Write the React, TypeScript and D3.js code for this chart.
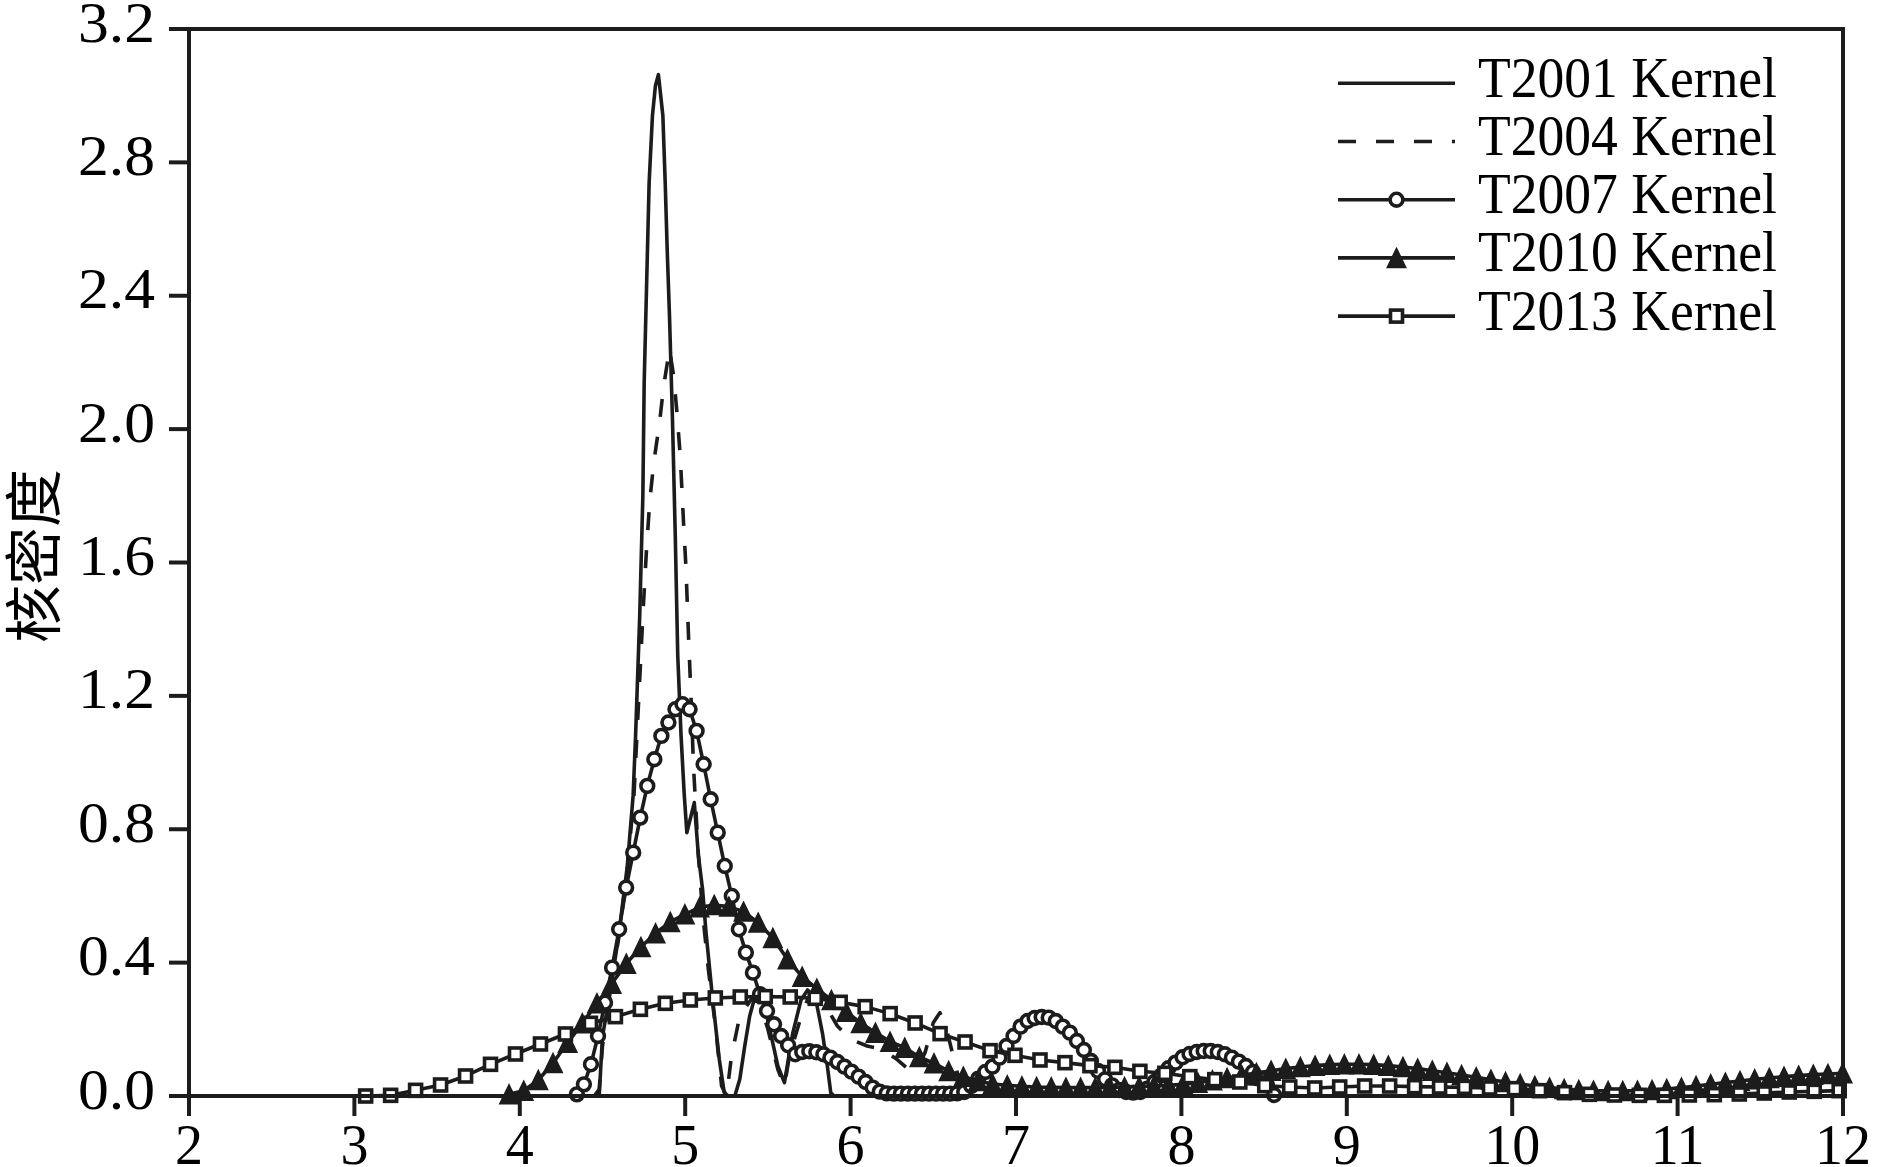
import React from "react";
import * as d3 from "d3";

const W = 1879;
const H = 1167;

// Axis ticks
const xTicks = [2, 3, 4, 5, 6, 7, 8, 9, 10, 11, 12];
const yTicks = [0, 0.4, 0.8, 1.2, 1.6, 2.0, 2.4, 2.8, 3.2];

// T2001 Kernel (solid line) - [x, density]
const t2001: [number, number][] = [
  [4.45, 0], [4.48, 0.0], [4.49, 0.09], [4.5, 0.18], [4.54, 0.29], [4.6, 0.49], [4.65, 0.69],
  [4.685, 0.9], [4.7, 1.08], [4.725, 1.44], [4.744, 1.8], [4.752, 2.14], [4.762, 2.34],
  [4.772, 2.54], [4.782, 2.74], [4.802, 2.94], [4.82, 3.03], [4.838, 3.063], [4.852, 3.0],
  [4.865, 2.94], [4.879, 2.74], [4.891, 2.54], [4.905, 2.34], [4.923, 2.03], [4.94, 1.68],
  [4.955, 1.32], [4.975, 1.08], [4.994, 0.905], [5.01, 0.79], [5.055, 0.88], [5.08, 0.72],
  [5.105, 0.62], [5.126, 0.49], [5.166, 0.29], [5.206, 0.11], [5.236, 0.01], [5.26, 0],
  [5.3, 0], [5.33, 0.05], [5.36, 0.15], [5.39, 0.24], [5.42, 0.295], [5.45, 0.31],
  [5.48, 0.27], [5.52, 0.18], [5.56, 0.09], [5.6, 0.04], [5.65, 0.188], [5.7, 0.288],
  [5.74, 0.318], [5.79, 0.288], [5.83, 0.188], [5.86, 0.088], [5.88, 0.01], [5.9, 0],
];

// T2004 Kernel (dashed line) - [x, density]
const t2004: [number, number][] = [
  [4.45, 0], [4.48, 0.02], [4.5, 0.15], [4.54, 0.3], [4.6, 0.48], [4.65, 0.68], [4.69, 0.9],
  [4.71, 1.1], [4.73, 1.3], [4.745, 1.45], [4.765, 1.63], [4.785, 1.78], [4.81, 1.9],
  [4.845, 2.02], [4.87, 2.13], [4.905, 2.24], [4.93, 2.16], [4.95, 2.05], [4.97, 1.92],
  [4.99, 1.72], [5.005, 1.58], [5.02, 1.38], [5.035, 1.2], [5.05, 0.99], [5.08, 0.72],
  [5.105, 0.55], [5.14, 0.38], [5.185, 0.2], [5.22, 0.03], [5.25, 0.0], [5.28, 0.12],
  [5.33, 0.24], [5.4, 0.29], [5.45, 0.28], [5.5, 0.2], [5.56, 0.08], [5.6, 0.03],
  [5.63, 0.12], [5.69, 0.22], [5.74, 0.29], [5.79, 0.3], [5.85, 0.27], [5.92, 0.21],
  [6.0, 0.17], [6.1, 0.15], [6.19, 0.14], [6.28, 0.11], [6.35, 0.08], [6.4, 0.08],
  [6.45, 0.13], [6.5, 0.22], [6.54, 0.25], [6.58, 0.2], [6.62, 0.12], [6.66, 0.04], [6.7, 0],
];

// T2007 Kernel (circles) - evaluation grid and densities
const t2007Start = 4.345;
const t2007Step = 0.04258;
const t2007Values = [
  0.005, 0.035, 0.095, 0.18, 0.28, 0.385, 0.5, 0.625, 0.73, 0.835,
  0.93, 1.01, 1.08, 1.12, 1.16, 1.175, 1.16, 1.095, 0.995, 0.89,
  0.79, 0.69, 0.6, 0.5, 0.43, 0.37, 0.305, 0.255, 0.215, 0.18,
  0.152, 0.125, 0.132, 0.134, 0.131, 0.125, 0.115, 0.102, 0.088, 0.073,
  0.058, 0.042, 0.025, 0.013, 0.008, 0.007, 0.007, 0.007, 0.007, 0.007,
  0.007, 0.007, 0.007, 0.007, 0.008, 0.012, 0.03, 0.052, 0.072, 0.088,
  0.115, 0.15, 0.18, 0.208, 0.225, 0.234, 0.237, 0.235, 0.225, 0.208,
  0.19, 0.165, 0.138, 0.105, 0.075, 0.05, 0.032, 0.018, 0.012, 0.01,
  0.012, 0.022, 0.042, 0.062, 0.083, 0.1, 0.116, 0.126, 0.132, 0.135,
  0.135, 0.132, 0.125, 0.115, 0.103, 0.09, 0.072, 0.053, 0.032, 0.003,
];

// T2010 Kernel (filled triangles)
const t2010Start = 3.935;
const t2010Step = 0.0886;
const t2010Values = [
  0.005, 0.016, 0.048, 0.099, 0.16, 0.218, 0.278, 0.337, 0.397, 0.447,
  0.488, 0.522, 0.545, 0.566, 0.573, 0.568, 0.553, 0.52, 0.474, 0.41,
  0.358, 0.322, 0.288, 0.253, 0.219, 0.19, 0.163, 0.145, 0.117, 0.098,
  0.075, 0.058, 0.045, 0.036, 0.032, 0.029, 0.027, 0.026, 0.025, 0.025,
  0.025, 0.026, 0.027, 0.028, 0.03, 0.032, 0.035, 0.04, 0.047, 0.054,
  0.062, 0.069, 0.076, 0.082, 0.087, 0.091, 0.094, 0.095, 0.095, 0.094,
  0.091, 0.087, 0.082, 0.076, 0.07, 0.063, 0.056, 0.049, 0.042, 0.036,
  0.03, 0.025, 0.021, 0.018, 0.016, 0.015, 0.015, 0.016, 0.018, 0.021,
  0.025, 0.03, 0.035, 0.04, 0.045, 0.05, 0.054, 0.058, 0.061, 0.064,
  0.066, 0.068,
];

// T2013 Kernel (open squares)
const t2013Start = 3.068;
const t2013Step = 0.151;
const t2013Values = [
  0, 0.002, 0.017, 0.033, 0.06, 0.095, 0.126, 0.156, 0.186, 0.218,
  0.238, 0.26, 0.278, 0.288, 0.294, 0.297, 0.298, 0.297, 0.293, 0.281,
  0.268, 0.247, 0.219, 0.187, 0.162, 0.136, 0.122, 0.108, 0.1, 0.091,
  0.086, 0.074, 0.068, 0.058, 0.049, 0.042, 0.031, 0.027, 0.024, 0.027,
  0.03, 0.03, 0.028, 0.027, 0.026, 0.024, 0.022, 0.016, 0.01, 0.005,
  0.003, 0.002, 0.002, 0.003, 0.004, 0.006, 0.009, 0.012, 0.014, 0.016,
];

const legendLabels = ["T2001 Kernel", "T2004 Kernel", "T2007 Kernel", "T2010 Kernel", "T2013 Kernel"];
const yAxisTitle = "核密度";

const INK = "#1c1c1c";
const SERIF = "'Liberation Serif', 'Times New Roman', serif";

const toPoints = (start: number, step: number, vals: number[]): [number, number][] =>
  vals.map((v, i) => [start + i * step, v]);

const PLOT = { left: 189, right: 1843, top: 29, bottom: 1096 };

const x = d3.scaleLinear().domain([2, 12]).range([PLOT.left, PLOT.right]);
const y = d3.scaleLinear().domain([0, 3.2]).range([PLOT.bottom, PLOT.top]);

const line = d3
  .line<[number, number]>()
  .x((d) => x(d[0]))
  .y((d) => y(d[1]));

type Marker = "none" | "circle" | "triangle" | "square";

function MarkerShape({ type, cx, cy }: { type: Marker; cx: number; cy: number }) {
  if (type === "circle") {
    return <circle cx={cx} cy={cy} r={6.4} fill="#fff" stroke={INK} strokeWidth={3.6} />;
  }
  if (type === "square") {
    const s = 12;
    return (
      <rect x={cx - s / 2} y={cy - s / 2} width={s} height={s} fill="#fff" stroke={INK} strokeWidth={3.6} />
    );
  }
  if (type === "triangle") {
    const w = 18.5;
    const h = 19;
    return (
      <path
        d={`M${cx},${cy - h / 2}L${cx + w / 2},${cy + h / 2}L${cx - w / 2},${cy + h / 2}Z`}
        fill={INK}
        stroke={INK}
        strokeWidth={1.5}
        strokeLinejoin="miter"
      />
    );
  }
  return null;
}

export default function App() {
  const series: { pts: [number, number][]; marker: Marker; dash?: string }[] = [
    { pts: t2001, marker: "none" },
    { pts: t2004, marker: "none", dash: "18 20" },
    { pts: toPoints(t2007Start, t2007Step, t2007Values), marker: "circle" },
    { pts: toPoints(t2010Start, t2010Step, t2010Values), marker: "triangle" },
    { pts: toPoints(t2013Start, t2013Step, t2013Values), marker: "square" },
  ];

  const legendX1 = 1338;
  const legendX2 = 1455;
  const legendY0 = 83.3;
  const legendDy = 58.2;

  return (
    <svg
      width={W}
      height={H}
      style={{ position: "absolute", left: 0, top: 0, background: "#fff" }}
      xmlns="http://www.w3.org/2000/svg"
    >
      <rect x={0} y={0} width={W} height={H} fill="#fff" />
      <defs>
        <clipPath id="plotClip">
          <rect x={PLOT.left} y={PLOT.top - 5} width={PLOT.right - PLOT.left} height={PLOT.bottom - PLOT.top + 5} />
        </clipPath>
      </defs>

      {/* series */}
      {series.map((s, si) => (
        <g key={si}>
          <path
            d={line(s.pts) || ""}
            fill="none"
            stroke={INK}
            strokeWidth={3.6}
            strokeDasharray={s.dash}
            strokeLinejoin="round"
            clipPath="url(#plotClip)"
          />
          {s.marker !== "none" &&
            s.pts.map((p, i) => <MarkerShape key={i} type={s.marker} cx={x(p[0])} cy={y(p[1])} />)}
        </g>
      ))}

      {/* frame */}
      <rect
        x={PLOT.left}
        y={PLOT.top}
        width={PLOT.right - PLOT.left}
        height={PLOT.bottom - PLOT.top}
        fill="none"
        stroke={INK}
        strokeWidth={4}
      />

      {/* y ticks */}
      {yTicks.map((t) => (
        <g key={`y${t}`}>
          <line x1={PLOT.left - 20} x2={PLOT.left} y1={y(t)} y2={y(t)} stroke={INK} strokeWidth={4} />
          <text
            x={155}
            y={y(t) + 12.5}
            textAnchor="end"
            fontFamily={SERIF}
            fontSize={57}
            fill="#000"
            textLength={77}
            lengthAdjust="spacingAndGlyphs"
          >
            {t.toFixed(1)}
          </text>
        </g>
      ))}

      {/* x ticks */}
      {xTicks.map((t) => (
        <g key={`x${t}`}>
          <line x1={x(t)} x2={x(t)} y1={PLOT.bottom} y2={PLOT.bottom + 20} stroke={INK} strokeWidth={4} />
          <text x={x(t)} y={1164} textAnchor="middle" fontFamily={SERIF} fontSize={56} fill="#000">
            {t}
          </text>
        </g>
      ))}

      {/* y axis title */}
      <text
        transform={`translate(30,556) rotate(-90)`}
        textAnchor="middle"
        dominantBaseline="central"
        fontFamily="'Noto Sans CJK SC', sans-serif"
        fontSize={58}
        fill="#000"
      >
        {yAxisTitle}
      </text>

      {/* legend */}
      {legendLabels.map((lab, i) => {
        const ly = legendY0 + i * legendDy;
        const s = series[i];
        return (
          <g key={lab}>
            <line
              x1={legendX1}
              x2={legendX2}
              y1={ly}
              y2={ly}
              stroke={INK}
              strokeWidth={3.6}
              strokeDasharray={s.dash}
            />
            <MarkerShape type={s.marker} cx={(legendX1 + legendX2) / 2} cy={ly} />
            <text
              x={1478}
              y={ly + 13.5}
              fontFamily={SERIF}
              fontSize={57}
              fill="#000"
              textLength={299}
              lengthAdjust="spacingAndGlyphs"
            >
              {lab}
            </text>
          </g>
        );
      })}
    </svg>
  );
}
